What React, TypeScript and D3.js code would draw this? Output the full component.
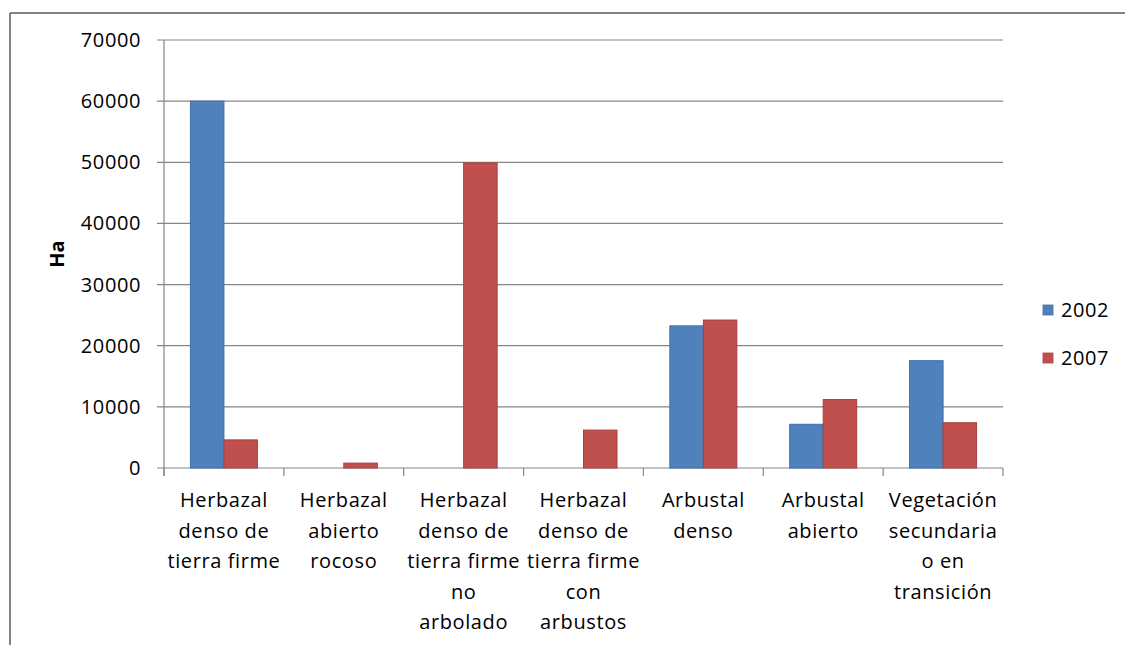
import React from "react";
import * as d3 from "d3";

const categories: string[][] = [
  ["Herbazal", "denso de", "tierra firme"],
  ["Herbazal", "abierto", "rocoso"],
  ["Herbazal", "denso de", "tierra firme", "no", "arbolado"],
  ["Herbazal", "denso de", "tierra firme", "con", "arbustos"],
  ["Arbustal", "denso"],
  ["Arbustal", "abierto"],
  ["Vegetación", "secundaria", "o en", "transición"],
];
const series = ["2002", "2007"];
const values2002 = [60000, 0, 0, 0, 23250, 7150, 17550];
const values2007 = [4600, 800, 49900, 6200, 24200, 11200, 7400];
const yTicks = [0, 10000, 20000, 30000, 40000, 50000, 60000, 70000];

const colors = ["#4F81BD", "#C0504D"];
const strokes = ["#3F6FA8", "#A8413E"];

export default function App() {
  const W = 1125, H = 645;
  const left = 164, right = 1003, top = 40, bottom = 468;
  const font = "'Open Sans', 'Liberation Sans', sans-serif";
  const fs = 20;
  const ls = 0.6;
  const x = d3.scaleBand<number>().domain(d3.range(categories.length)).range([left, right]).paddingInner(0).paddingOuter(0);
  const y = d3.scaleLinear().domain([0, 70000]).range([bottom, top]);
  const bw = x.bandwidth();
  const barW = 33.5;
  const data = [values2002, values2007];
  return (
    <svg width={W} height={H} style={{ position: "absolute", left: 0, top: 0 }}>
      <rect x={0} y={0} width={W} height={H} fill="#fff" />
      <line x1={10} x2={W} y1={13} y2={13} stroke="#595959" strokeWidth={1.5} />
      <line x1={10} x2={10} y1={13} y2={H} stroke="#595959" strokeWidth={1.5} />
      {yTicks.map((t) => (
        <g key={t}>
          <line x1={left - 7} x2={right} y1={y(t)} y2={y(t)} stroke="#868686" strokeWidth={1.2} />
          <text x={141} y={y(t)} dy="0.35em" textAnchor="end" fontFamily={font} fontSize={fs} letterSpacing={ls} fill="#000">{t}</text>
        </g>
      ))}
      <line x1={left} x2={left} y1={top} y2={bottom + 8} stroke="#868686" strokeWidth={1.2} />
      {d3.range(categories.length + 1).map((i) => {
        const xx = i < categories.length ? x(i)! : right;
        return <line key={i} x1={xx} x2={xx} y1={bottom} y2={bottom + 8} stroke="#868686" strokeWidth={1.2} />;
      })}
      {data.map((vals, s) =>
        vals.map((v, i) => {
          if (v <= 0) return null;
          const cx = x(i)! + bw / 2;
          const bx = s === 0 ? cx - barW : cx;
          return (
            <rect key={`${s}-${i}`} x={bx} y={y(v)} width={barW} height={bottom - y(v)} fill={colors[s]} stroke={strokes[s]} strokeWidth={1} />
          );
        })
      )}
      {categories.map((lines, i) => (
        <text key={i} textAnchor="middle" fontFamily={font} fontSize={fs} letterSpacing={ls} fill="#000">
          {lines.map((l, k) => (
            <tspan key={k} x={x(i)! + bw / 2} y={507 + k * 30.5}>{l}</tspan>
          ))}
        </text>
      ))}
      <text transform={`translate(64,${(top + bottom) / 2}) rotate(-90)`} textAnchor="middle" fontFamily={font} fontSize={fs} fontWeight="bold" fill="#000">Ha</text>
      {series.map((s, k) => (
        <g key={s} transform={`translate(1043,${310 + k * 48})`}>
          <rect x={0} y={-5} width={10} height={10} fill={colors[k]} stroke={strokes[k]} strokeWidth={0.8} />
          <text x={18} y={0} dy="0.35em" fontFamily={font} fontSize={fs} letterSpacing={ls} fill="#000">{s}</text>
        </g>
      ))}
    </svg>
  );
}
